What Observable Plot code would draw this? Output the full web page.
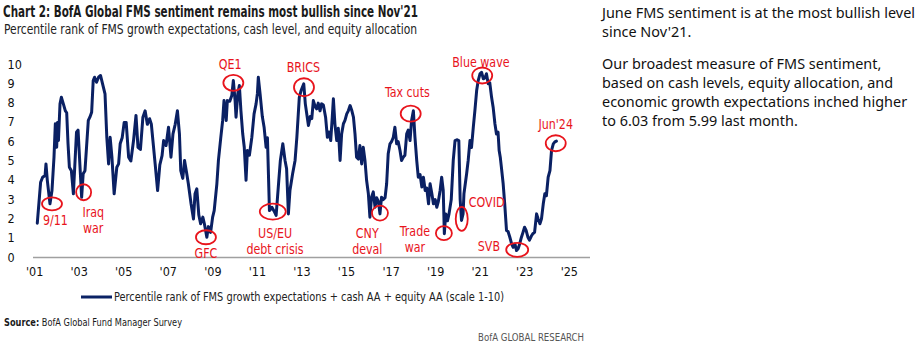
<!DOCTYPE html>
<html>
<head>
<meta charset="utf-8">
<script src="https://cdn.jsdelivr.net/npm/d3@7"></script>
<script src="https://cdn.jsdelivr.net/npm/@observablehq/plot@0.6"></script>
<style>
  html, body { margin: 0; padding: 0; background: #fff; }
  #root { position: relative; width: 924px; height: 348px; overflow: hidden; background: #fff; color: #1a1a1a; }
  .abs { position: absolute; white-space: nowrap; }
  .fit { display: inline-block; transform-origin: 0 0; }
  #chart { position: absolute; left: 0; top: 40px; }
</style>
</head>
<body>
<div id="root">
  <div class="abs" id="title" style="left:3px; top:3px; font-size:15px; font-weight:700; line-height:18px;"><span class="fit">Chart 2: BofA Global FMS sentiment remains most bullish since Nov'21</span></div>
  <div class="abs" id="subtitle" style="left:4px; top:21px; font-size:14px; line-height:17px; color:#222;"><span class="fit">Percentile rank of FMS growth expectations, cash level, and equity allocation</span></div>
  <div id="chart"></div>
  <div class="abs" id="legend" style="left:81px; top:289px; height:16px;">
    <svg width="34" height="16" style="position:absolute; left:0; top:0;"><line x1="0" x2="31" y1="8" y2="8" stroke="#0b2265" stroke-width="3"/></svg>
    <span class="fit" id="legendText" style="position:absolute; left:33px; top:0; font-size:12.5px; line-height:16px; color:#222;">Percentile rank of FMS growth expectations + cash AA + equity AA (scale 1-10)</span>
  </div>
  <div class="abs" id="source" style="left:4px; top:316px; font-size:10.5px; line-height:13px; color:#1a1a1a;"><span class="fit"><b>Source:</b> BofA Global Fund Manager Survey</span></div>
  <div class="abs" id="brand" style="left:478px; top:331px; font-size:10.5px; line-height:13px; color:#555;"><span class="fit">BofA GLOBAL RESEARCH</span></div>
  <div class="abs" id="side" style="left:602px; top:3px; font-size:15px; line-height:19px; color:#111;">
    <div class="fit" id="p1"><span>June FMS sentiment is at the most bullish level</span><br><span>since Nov'21.</span></div>
    <div class="fit" id="p2" style="position:absolute; left:0; top:51px;"><span>Our broadest measure of FMS sentiment,</span><br><span>based on cash levels, equity allocation, and</span><br><span>economic growth expectations inched higher</span><br><span>to 6.03 from 5.99 last month.</span></div>
  </div>
</div>
<script>
// ---------------- data ----------------
const years = [
  2001.12,2001.27,2001.36,2001.47,2001.51,2001.57,2001.69,2001.78,2001.87,2001.93,2001.99,
  2002.03,2002.07,2002.14,2002.20,2002.29,2002.38,2002.44,2002.50,2002.56,2002.65,2002.74,2002.88,2002.95,
  2003.11,2003.18,2003.26,2003.33,2003.41,2003.48,2003.56,2003.63,2003.69,2003.78,2003.87,2003.96,
  2004.05,2004.16,2004.24,2004.32,2004.39,2004.47,2004.57,2004.69,2004.77,2004.84,2004.93,
  2005.02,2005.11,2005.22,2005.32,2005.44,2005.55,2005.64,2005.75,2005.86,2005.96,
  2006.06,2006.16,2006.24,2006.31,2006.41,2006.52,2006.62,2006.72,2006.79,2006.90,
  2007.01,2007.12,2007.21,2007.31,2007.41,2007.50,2007.56,2007.65,2007.73,2007.82,2007.90,
  2008.02,2008.13,2008.20,2008.28,2008.37,2008.45,2008.55,2008.62,2008.73,2008.80,2008.90,2008.99,
  2009.06,2009.18,2009.25,2009.35,2009.44,2009.50,2009.60,2009.65,2009.76,2009.85,2009.92,
  2010.00,2010.04,2010.12,2010.19,2010.26,2010.34,2010.41,2010.49,2010.55,2010.64,2010.75,2010.85,2010.94,
  2011.00,2011.04,2011.12,2011.22,2011.30,2011.39,2011.45,2011.54,2011.65,2011.75,2011.84,2011.96,
  2012.03,2012.14,2012.24,2012.31,2012.39,2012.46,2012.58,2012.69,2012.77,2012.88,2012.96,
  2013.08,2013.15,2013.29,2013.37,2013.44,2013.51,2013.60,2013.66,2013.73,2013.81,2013.88,2013.96,
  2014.06,2014.14,2014.21,2014.29,2014.36,2014.41,2014.48,2014.56,2014.63,2014.71,2014.78,2014.86,2014.93,
  2015.01,2015.08,2015.16,2015.24,2015.31,2015.38,2015.45,2015.53,2015.60,2015.68,2015.75,2015.83,2015.90,2015.98,
  2016.05,2016.12,2016.20,2016.28,2016.35,2016.43,2016.50,2016.57,2016.65,2016.73,2016.80,2016.87,2016.95,
  2017.02,2017.10,2017.17,2017.25,2017.32,2017.40,2017.47,2017.55,2017.62,2017.70,2017.77,2017.85,2017.92,
  2018.00,2018.07,2018.15,2018.22,2018.30,2018.38,2018.45,2018.53,2018.60,2018.68,2018.75,2018.83,2018.90,2018.98,
  2019.05,2019.12,2019.20,2019.27,2019.34,2019.39,2019.45,2019.53,2019.60,2019.70,2019.79,2019.87,2019.95,
  2020.04,2020.10,2020.16,2020.23,2020.27,2020.39,2020.46,2020.54,2020.61,2020.69,2020.76,2020.84,2020.91,2020.99,
  2021.06,2021.14,2021.21,2021.28,2021.36,2021.43,2021.51,2021.58,2021.66,2021.73,2021.80,2021.85,2021.90,2021.95,
  2022.03,2022.10,2022.18,2022.25,2022.33,2022.41,2022.48,2022.56,2022.63,2022.70,2022.77,2022.85,2022.92,2022.99,
  2023.06,2023.14,2023.21,2023.29,2023.36,2023.44,2023.53,2023.60,2023.68,2023.75,2023.83,2023.90,2023.97,
  2024.05,2024.13,2024.20,2024.28,2024.35,2024.42
];
const values = [
  1.78,3.90,4.16,4.25,4.85,4.00,2.78,3.47,5.20,6.93,5.71,
  7.00,6.06,7.96,8.30,7.96,7.60,7.50,5.89,4.68,4.50,3.30,6.49,6.60,
  3.12,4.34,4.50,5.71,7.10,7.27,7.53,9.17,9.34,9.08,9.34,9.43,
  9.00,8.48,6.23,4.85,6.23,5.20,3.30,4.68,4.85,5.89,6.20,
  7.00,7.00,5.20,5.00,6.06,7.36,5.71,5.60,7.27,7.60,
  6.90,7.19,6.90,6.06,4.85,3.47,4.80,5.28,6.06,5.80,
  6.75,5.20,6.41,6.90,7.60,6.41,4.50,4.10,5.03,4.40,3.82,
  2.80,2.00,3.30,3.56,2.20,1.75,2.09,1.75,1.05,1.60,1.30,2.09,
  2.43,3.82,5.03,6.15,7.10,8.13,7.10,8.13,8.10,8.39,9.17,
  8.10,7.27,8.48,8.91,7.60,6.41,5.71,4.00,5.54,5.30,6.23,7.44,7.96,
  8.50,9.34,8.48,7.30,6.75,5.71,6.20,2.43,2.60,2.40,2.18,4.00,
  5.03,5.89,5.03,4.60,2.26,3.47,4.34,5.03,6.23,8.30,8.65,
  9.00,7.96,6.84,7.30,7.20,8.13,7.80,7.70,8.00,7.60,7.96,7.90,
  7.27,6.23,6.50,6.06,7.27,8.22,6.90,6.06,6.70,5.03,6.40,6.93,7.10,
  7.44,7.60,7.87,7.60,7.27,6.41,5.20,5.10,5.80,4.85,5.71,5.00,4.00,3.30,
  2.09,3.12,3.40,2.60,3.10,2.90,2.26,3.12,3.00,3.10,3.82,5.37,5.89,
  6.00,6.23,6.75,5.89,6.00,5.54,5.03,5.20,5.30,6.41,6.60,6.06,7.10,
  7.60,6.25,5.03,4.16,4.30,3.65,4.16,3.47,3.60,2.78,3.82,3.30,2.78,3.00,
  2.60,2.90,3.47,4.16,3.47,1.23,2.26,1.90,2.26,3.00,5.03,6.06,6.10,
  6.06,3.00,1.92,2.26,3.30,4.34,5.03,6.06,5.70,6.75,7.60,8.65,9.17,9.52,
  9.60,9.26,9.30,9.52,9.00,9.05,8.30,7.79,6.93,6.40,6.50,5.54,5.20,4.68,
  3.82,2.78,1.40,1.35,1.05,0.71,0.53,0.70,0.36,0.45,0.70,1.05,1.30,1.57,
  1.40,1.05,0.90,1.10,1.23,1.30,2.26,2.00,1.75,2.00,2.78,3.30,3.20,
  4.16,4.50,5.54,5.89,5.99,6.03
];
const xTicks = [2001,2003,2005,2007,2009,2011,2013,2015,2017,2019,2021,2023,2025];
const yTicks = [0,1,2,3,4,5,6,7,8,9,10];

// event markers: where the ring sits on the line (year, value)
const eventNames  = ["9/11","Iraq war","GFC","QE1","US/EU","BRICS","CNY","Tax cuts","Trade war","COVID","Blue wave","SVB","Jun'24"];
const eventYears  = [2001.78,2003.20,2008.69,2009.92,2011.69,2013.09,2016.50,2017.88,2019.37,2020.17,2021.09,2022.66,2024.39];
const eventValues = [2.78,3.38,1.05,9.05,2.38,8.82,2.30,7.45,1.26,2.00,9.43,0.40,5.92];

// annotation labels (text, year, value of label centre)
const labelTexts  = ["9/11","Iraq\nwar","GFC","QE1","US/EU\ndebt crisis","BRICS","CNY\ndeval","Tax cuts","Trade\nwar","COVID","Blue wave","SVB","Jun'24"];
const labelYears  = [2001.93,2003.63,2008.69,2009.78,2011.79,2013.06,2015.93,2017.73,2018.07,2021.29,2021.03,2021.39,2024.39];
const labelValues = [1.92,1.94,0.22,10.04,0.85,9.86,0.85,8.56,0.97,2.87,10.12,0.62,6.93];

// ---------------- styles ----------------
const NAVY = "#0a2063";
const RED = "#e8141c";
const ringShape = { // [rx, ry] in px
  "9/11":[10,6.5], "Iraq war":[7.5,8], "GFC":[10,7], "QE1":[10,8], "US/EU":[13,8], "BRICS":[10,9],
  "CNY":[8,7.5], "Tax cuts":[10,8], "Trade war":[8,7], "COVID":[6,12], "Blue wave":[10,8], "SVB":[11,7], "Jun'24":[10,8]
};

function available(name) {
  const c = document.createElement("canvas").getContext("2d");
  const s = "Percentile rank of FMS growth 0123456789";
  c.font = "40px monospace"; const a = c.measureText(s).width;
  c.font = `40px "${name}", monospace`; const b = c.measureText(s).width;
  c.font = "40px serif"; const a2 = c.measureText(s).width;
  c.font = `40px "${name}", serif`; const b2 = c.measureText(s).width;
  return a !== b || a2 !== b2;
}
const condCandidates = ["Liberation Sans Narrow","DejaVu Sans Condensed","Roboto","Liberation Sans"];
const COND = condCandidates.find(available) || "sans-serif";
const humanCandidates = ["Noto Sans","Open Sans","Lato","DejaVu Sans"];
const HUMAN = humanCandidates.find(available) || "sans-serif";

document.getElementById("root").style.fontFamily = `"${COND}", sans-serif`;
document.getElementById("side").style.fontFamily = `"${HUMAN}", sans-serif`;

// squeeze a text mark horizontally (condensed look), keeping its anchor
function squeeze(k) {
  return function(index, scales, vals, dims, ctx, next) {
    const g = next(index, scales, vals, dims, ctx);
    d3.select(g).selectAll("text").each(function() {
      const t = this.getAttribute("transform") || "";
      this.setAttribute("transform", t + ` scale(${k},1)`);
    });
    return g;
  };
}

// ---------------- chart ----------------
const series = years.map((t, i) => ({t, v: values[i]}));
const events = eventNames.map((name, i) => ({name, t: eventYears[i], v: eventValues[i]}));
const labels = labelTexts.map((text, i) => ({text, t: labelYears[i], v: labelValues[i]}));

const chart = Plot.plot({
  width: 592,
  height: 246,
  marginLeft: 33,
  marginRight: 2,
  marginTop: 24,
  marginBottom: 29,
  style: {fontFamily: `"${COND}", sans-serif`, fontSize: "11px", color: "#111", background: "transparent", overflow: "visible"},
  x: {domain: [2000.95, 2025.95], axis: null},
  y: {domain: [0, 10], axis: null},
  marks: [
    Plot.axisX({ticks: xTicks, tickSize: 0, tickPadding: 10, tickFormat: d => "'" + String(d).slice(2), fontSize: 12.5, label: null}),
    Plot.axisY({ticks: yTicks, tickSize: 0, tickPadding: 3, textAnchor: "start", dx: -23, fontSize: 12.5, label: null}),
    Plot.ruleY([0], {stroke: "#a0a0a0", strokeWidth: 1.5}),
    Plot.line(series, {x: "t", y: "v", stroke: NAVY, strokeWidth: 3, strokeLinejoin: "round"}),
    Plot.dot(events, {
      x: "t", y: "v", r: 8, stroke: RED, strokeWidth: 1.8, fill: "none",
      render(index, scales, vals, dims, ctx, next) {
        const g = next(index, scales, vals, dims, ctx);
        d3.select(g).selectAll("circle").each(function(_, j) {
          const d = events[index[j]];
          const [rx, ry] = ringShape[d.name];
          const e = document.createElementNS("http://www.w3.org/2000/svg", "ellipse");
          e.setAttribute("cx", this.getAttribute("cx"));
          e.setAttribute("cy", this.getAttribute("cy"));
          e.setAttribute("rx", rx);
          e.setAttribute("ry", ry);
          this.replaceWith(e);
        });
        return g;
      }
    }),
    Plot.text(labels, {x: "t", y: "v", text: "text", fill: RED, fontSize: 14.5, lineHeight: 1.08, textAnchor: "middle", render: squeeze(0.85)})
  ]
});
document.getElementById("chart").appendChild(chart);

// ---------------- fit text widths to the reference ----------------
function fit(el, target) {
  const w = el.getBoundingClientRect().width;
  if (w > 0) el.style.transform = `scaleX(${target / w})`;
}
fit(document.querySelector("#title .fit"), 415);
fit(document.querySelector("#subtitle .fit"), 413);
fit(document.getElementById("legendText"), 390);
fit(document.querySelector("#source .fit"), 178);
fit(document.querySelector("#brand .fit"), 106);
// side paragraphs: one common scale, from the first line
(function() {
  const first = document.querySelector("#p1 span");
  const w = first.getBoundingClientRect().width;
  const s = 313 / w;
  for (const id of ["p1", "p2"]) document.getElementById(id).style.transform = `scaleX(${s})`;
})();
</script>
</body>
</html>
